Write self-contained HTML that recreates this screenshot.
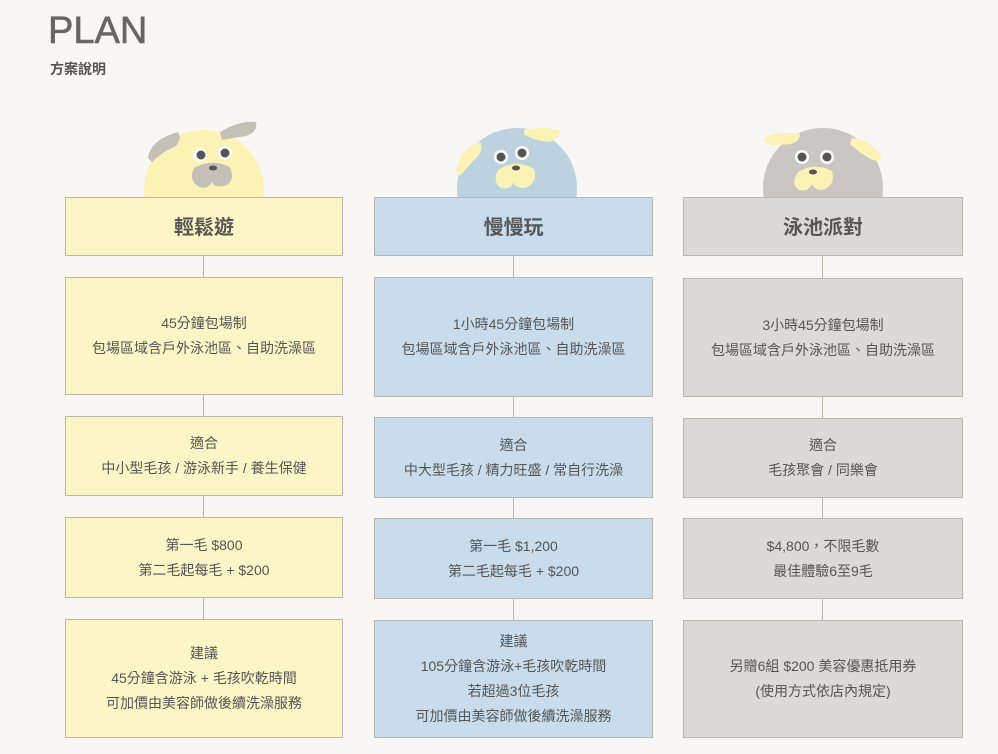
<!DOCTYPE html>
<html><head><meta charset="utf-8"><style>
body{margin:0;width:998px;height:754px;background:#f8f7f5;position:relative;overflow:hidden;font-family:"Liberation Sans","Noto Sans CJK TC",sans-serif;color:#555}
.h1{position:absolute;left:48px;top:10px;font-size:38px;color:#666;-webkit-text-stroke:0.6px #666}
.h2{position:absolute;left:50px;top:59px;font-size:14px;font-weight:bold;color:#555}
.b{position:absolute;box-sizing:border-box;border:1px solid #b8b6ae;display:flex;align-items:center;justify-content:center;text-align:center;font-size:14px;line-height:25px;color:#555}
.y{background:#fcf5c6}.bl{background:#c9dcec}.g{background:#dcdad8}
.t{font-size:20px;font-weight:bold;padding-top:4px}
.l{position:absolute;width:1px;background:#b8b6ae}
svg{position:absolute;left:0;top:0}
</style></head><body>
<div class="h1">PLAN</div>
<div class="h2">方案說明</div>
<svg width="998" height="754">
<g>
<circle cx="204" cy="190" r="60" fill="#fbf3b6"/>
<path d="M148 158 Q150 140 178 132 Q182 138 176 146 Q162 152 152 162Z" fill="#c4c0b8"/>
<path d="M220 132 Q240 120 256 122 Q258 132 246 136 Q232 138 222 140Z" fill="#c4c0b8"/>
<circle cx="200" cy="155" r="7" fill="#fff"/><circle cx="201" cy="155" r="4.5" fill="#555"/>
<circle cx="225" cy="153" r="7" fill="#fff"/><circle cx="225" cy="153" r="4.5" fill="#555"/>
<path d="M194 168 Q212 158 230 167 Q236 182 224 186 Q214 188 212 182 Q208 190 199 187 Q188 180 194 168Z" fill="#c4c0b8"/>
<ellipse cx="213" cy="168" rx="4" ry="2.5" fill="#555"/>
</g>
<g>
<circle cx="517" cy="188" r="60" fill="#bcd2de"/>
<path d="M456 172 Q458 150 480 142 Q484 148 478 156 Q468 166 460 176Z" fill="#fbf3b6"/>
<path d="M524 130 Q542 126 560 130 Q560 140 548 142 Q532 140 524 134Z" fill="#fbf3b6"/>
<circle cx="501" cy="157" r="7" fill="#fff"/><circle cx="501" cy="157" r="4.5" fill="#555"/>
<circle cx="522" cy="153" r="7" fill="#fff"/><circle cx="522" cy="153" r="4.5" fill="#555"/>
<path d="M498 170 Q516 158 534 169 Q538 184 524 188 Q514 188 514 182 Q510 190 501 188 Q492 182 498 170Z" fill="#fbf3b6"/>
<ellipse cx="516" cy="168" rx="4" ry="2.5" fill="#555"/>
</g>
<g>
<circle cx="823" cy="188" r="60" fill="#c9c6c4"/>
<path d="M764 138 Q780 130 800 134 Q800 142 790 144 Q774 146 766 144Z" fill="#fbf3b6"/>
<path d="M852 138 Q872 140 882 158 Q876 164 866 156 Q856 150 850 144Z" fill="#fbf3b6"/>
<circle cx="802" cy="157" r="7" fill="#fff"/><circle cx="802" cy="157" r="4.5" fill="#555"/>
<circle cx="827" cy="157" r="7" fill="#fff"/><circle cx="827" cy="157" r="4.5" fill="#555"/>
<path d="M798 172 Q814 162 832 171 Q836 186 822 190 Q814 190 812 184 Q808 192 799 190 Q790 184 798 172Z" fill="#fbf3b6"/>
<ellipse cx="813" cy="172" rx="4" ry="2.5" fill="#555"/>
</g>
</svg>

<div class="l" style="left:203px;top:255px;height:364px"></div>
<div class="l" style="left:513px;top:255px;height:365px"></div>
<div class="l" style="left:822px;top:255px;height:365px"></div>

<div class="b y t" style="left:65px;top:197px;width:278px;height:59px">輕鬆遊</div>
<div class="b y" style="left:65px;top:277px;width:278px;height:118px">45分鐘包場制<br>包場區域含戶外泳池區、自助洗澡區</div>
<div class="b y" style="left:65px;top:416px;width:278px;height:80px">適合<br>中小型毛孩 / 游泳新手 / 養生保健</div>
<div class="b y" style="left:65px;top:517px;width:278px;height:81px">第一毛 $800<br>第二毛起每毛 + $200</div>
<div class="b y" style="left:65px;top:619px;width:278px;height:119px">建議<br>45分鐘含游泳 + 毛孩吹乾時間<br>可加價由美容師做後續洗澡服務</div>

<div class="b bl t" style="left:374px;top:197px;width:279px;height:59px">慢慢玩</div>
<div class="b bl" style="left:374px;top:277px;width:279px;height:120px">1小時45分鐘包場制<br>包場區域含戶外泳池區、自助洗澡區</div>
<div class="b bl" style="left:374px;top:417px;width:279px;height:81px">適合<br>中大型毛孩 / 精力旺盛 / 常自行洗澡</div>
<div class="b bl" style="left:374px;top:518px;width:279px;height:81px">第一毛 $1,200<br>第二毛起每毛 + $200</div>
<div class="b bl" style="left:374px;top:620px;width:279px;height:118px">建議<br>105分鐘含游泳+毛孩吹乾時間<br>若超過3位毛孩<br>可加價由美容師做後續洗澡服務</div>

<div class="b g t" style="left:683px;top:197px;width:280px;height:59px">泳池派對</div>
<div class="b g" style="left:683px;top:278px;width:280px;height:119px">3小時45分鐘包場制<br>包場區域含戶外泳池區、自助洗澡區</div>
<div class="b g" style="left:683px;top:418px;width:280px;height:80px">適合<br>毛孩聚會 / 同樂會</div>
<div class="b g" style="left:683px;top:518px;width:280px;height:81px">$4,800，不限毛數<br>最佳體驗6至9毛</div>
<div class="b g" style="left:683px;top:620px;width:280px;height:118px">另贈6組 $200 美容優惠抵用券<br>(使用方式依店內規定)</div>
</body></html>
